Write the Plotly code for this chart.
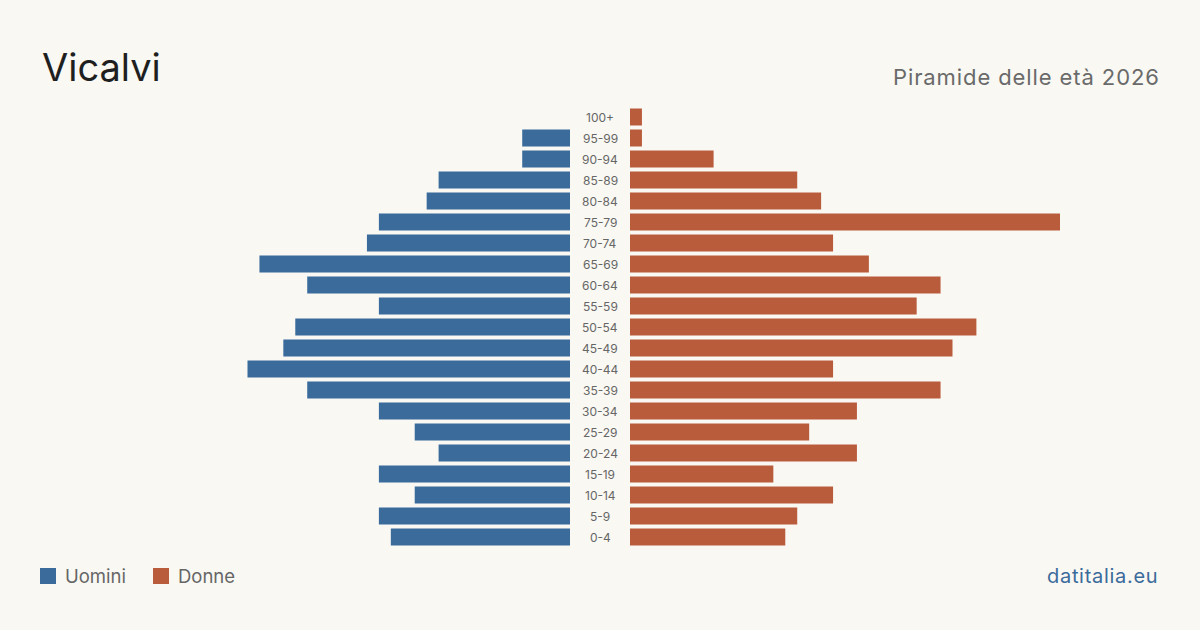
import plotly.graph_objects as go

age_groups = ["100+", "95-99", "90-94", "85-89", "80-84", "75-79", "70-74", "65-69",
              "60-64", "55-59", "50-54", "45-49", "40-44", "35-39", "30-34", "25-29",
              "20-24", "15-19", "10-14", "5-9", "0-4"]
men = [0, 4, 4, 11, 12, 16, 17, 26, 22, 16, 23, 24, 27, 22, 16, 13, 11, 16, 13, 16, 15]
women = [1, 1, 7, 14, 16, 36, 17, 20, 26, 24, 29, 27, 17, 26, 19, 15, 19, 12, 17, 14, 13]

title = "Vicalvi"
subtitle = "Piramide delle età 2026"
source = "datitalia.eu"
legend_names = ["Uomini", "Donne"]

BLUE = "#3b6b9b"
ORANGE = "#b95c3c"
BG = "#f9f8f3"
W, H = 1200, 630
FONT = "Inter"

xmax = 36
fig = go.Figure()
fig.add_trace(go.Bar(y=age_groups, x=men, orientation="h", marker_color=BLUE,
                     marker_line_width=0,
                     xaxis="x", yaxis="y", name=legend_names[0], showlegend=False,
                     hoverinfo="x+y"))
fig.add_trace(go.Bar(y=age_groups, x=women, orientation="h", marker_color=ORANGE,
                     marker_line_width=0,
                     xaxis="x2", yaxis="y", name=legend_names[1], showlegend=False,
                     hoverinfo="x+y"))

top_px, bot_px = 106.5, 547.5
ydom = [1 - bot_px / H, 1 - top_px / H]

fig.update_layout(
    width=W, height=H, paper_bgcolor=BG, plot_bgcolor=BG,
    margin=dict(l=0, r=0, t=0, b=0),
    bargap=0.19,
    font=dict(family=FONT, color="#666666"),
    xaxis=dict(domain=[(570 - xmax * 430 / 36) / W, 570 / W], range=[xmax, 0],
               visible=False, fixedrange=True),
    xaxis2=dict(domain=[630 / W, (630 + xmax * 430 / 36) / W], range=[0, xmax],
                visible=False, fixedrange=True),
    yaxis=dict(domain=ydom, categoryorder="array", categoryarray=age_groups[::-1],
               visible=False, fixedrange=True),
)

annotations = []
for a in age_groups:
    annotations.append(dict(x=0.5, xref="paper", y=a, yref="y", text=a, showarrow=False,
                            font=dict(size=12, color="#666666", family=FONT),
                            xanchor="center", yanchor="middle"))
annotations.append(dict(x=40 / W, y=1 - 67 / H, xref="paper", yref="paper", text=title,
                        showarrow=False, xanchor="left", yanchor="middle",
                        font=dict(size=38, color="#1f1f1f", family=FONT)))
annotations.append(dict(x=1162 / W, y=1 - 77 / H, xref="paper", yref="paper",
                        text='<span style="letter-spacing:0.9px">' + subtitle + '</span>',
                        showarrow=False, xanchor="right", yanchor="middle",
                        font=dict(size=22, color="#6a6a6a", family=FONT)))
annotations.append(dict(x=1159.5 / W, y=1 - 576 / H, xref="paper", yref="paper",
                        text='<span style="letter-spacing:0.7px">' + source + '</span>',
                        showarrow=False, xanchor="right", yanchor="middle",
                        font=dict(size=20, color="#3b6b9b", family=FONT)))
annotations.append(dict(x=63 / W, y=1 - 576 / H, xref="paper", yref="paper", text=legend_names[0],
                        showarrow=False, xanchor="left", yanchor="middle",
                        font=dict(size=18.5, color="#666666", family=FONT)))
annotations.append(dict(x=176 / W, y=1 - 576 / H, xref="paper", yref="paper", text=legend_names[1],
                        showarrow=False, xanchor="left", yanchor="middle",
                        font=dict(size=18.5, color="#666666", family=FONT)))

shapes = [
    dict(type="rect", xref="paper", yref="paper", x0=40 / W, x1=56 / W,
         y0=1 - 584 / H, y1=1 - 568 / H, fillcolor=BLUE, line=dict(width=0)),
    dict(type="rect", xref="paper", yref="paper", x0=153 / W, x1=169 / W,
         y0=1 - 584 / H, y1=1 - 568 / H, fillcolor=ORANGE, line=dict(width=0)),
]
fig.update_layout(annotations=annotations, shapes=shapes)

fig.write_html("out.html", config={"displayModeBar": False})
